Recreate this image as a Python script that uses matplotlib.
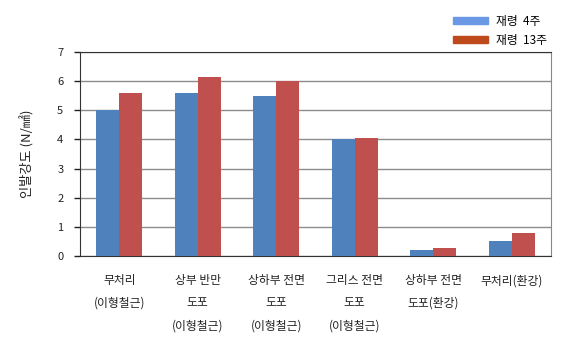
import numpy as np
import matplotlib
matplotlib.use("Agg")
import matplotlib.pyplot as plt
from matplotlib.patches import Patch

plt.rcParams['font.family'] = ['Noto Sans CJK KR', 'DejaVu Sans']

categories = ["무처리\n(이형철근)", "상부 반만\n도포\n(이형철근)", "상하부 전면\n도포\n(이형철근)",
              "그리스 전면\n도포\n(이형철근)", "상하부 전면\n도포(환강)", "무처리(환강)"]
week4 = [5.0, 5.6, 5.5, 4.0, 0.2, 0.52]
week13 = [5.6, 6.15, 6.0, 4.05, 0.28, 0.8]
series_names = ["재령  4주", "재령  13주"]

fig = plt.figure(figsize=(5.68, 3.57), dpi=100)
ax = fig.add_axes([80 / 568, 1 - 256 / 357, 471 / 568, 204 / 357])

x = np.arange(len(categories))
w = 0.29
ax.bar(x - w / 2, week4, w, color='#4F81BD', zorder=3)
ax.bar(x + w / 2, week13, w, color='#C0504D', zorder=3)

ax.set_xlim(-0.5, len(categories) - 0.5)
ax.set_ylim(0, 7)
ax.set_yticks(range(8))
ax.yaxis.grid(True, color='#8c8c8c', linewidth=1, zorder=0)
ax.set_xticks(x)
ax.set_xticklabels(categories, fontsize=8.5, linespacing=1.95, color='#222222')
ax.tick_params(axis='x', length=0, pad=13)
ax.tick_params(axis='y', length=4, width=1, labelsize=8, colors='#222222', pad=8)

for side in ['left', 'bottom', 'top']:
    ax.spines[side].set_color('#333333')
ax.spines['right'].set_color('#888888')

ax.set_ylabel("인발강도 (N/㎟)", fontsize=9.5, labelpad=16, color='#222222')

handles = [Patch(color='#6A98E4'), Patch(color='#BE4A1C')]
fig.legend(handles, series_names, loc='upper right', bbox_to_anchor=(558 / 568, 1 - 4 / 357),
           frameon=False, fontsize=8.5, handlelength=3.0, handleheight=0.6,
           labelspacing=0.5, handletextpad=0.7)

fig.savefig("out.png", dpi=100)
